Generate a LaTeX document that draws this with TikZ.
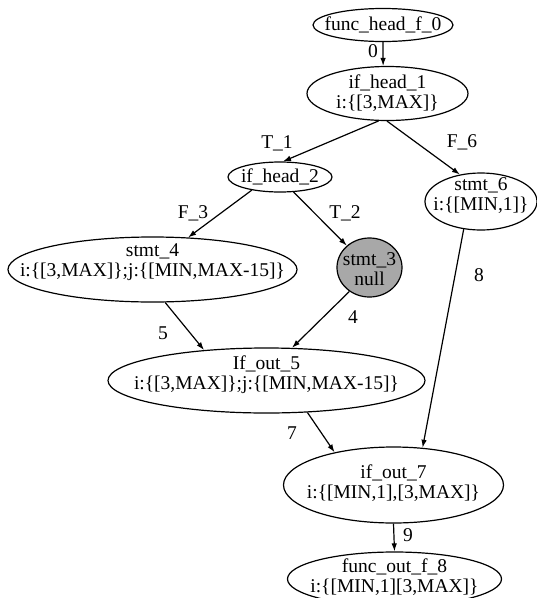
\documentclass[tikz,border=0pt]{standalone}
\usepackage{fontspec}
\setmainfont{Liberation Serif}
\usetikzlibrary{shapes.geometric,arrows.meta}
\definecolor{nodegray}{gray}{0.66}
\tikzset{
  bub/.style={ellipse, draw, line width=1.2pt, inner sep=0pt},
  txt/.style={align=center, inner sep=0pt, font=\fontsize{19.5}{20}\selectfont},
  lab/.style={inner sep=0pt, font=\fontsize{19.5}{20}\selectfont},
  conn/.style={line width=1.2pt, -{Latex[length=8pt,width=5.5pt]}},
}
\begin{document}
\begin{tikzpicture}[x=1pt,y=-1pt]
\useasboundingbox (0,0) rectangle (537,598);
% ellipses
\node[bub, minimum width=140pt, minimum height=33pt] (A) at (383,25) {};
\node[bub, minimum width=161pt, minimum height=54pt] (B) at (387.5,93.5) {};
\node[bub, minimum width=104pt, minimum height=30pt] (C) at (280,177) {};
\node[bub, minimum width=112pt, minimum height=57pt] (D) at (481,201.5) {};
\node[bub, minimum width=289pt, minimum height=65pt] (E) at (152.5,269.5) {};
\node[bub, fill=nodegray, minimum width=65pt, minimum height=59pt] (F) at (369.5,267.5) {};
\node[bub, minimum width=317pt, minimum height=65pt] (G) at (266.5,380.5) {};
\node[bub, minimum width=220pt, minimum height=76pt] (H) at (393.5,485) {};
\node[bub, minimum width=214pt, minimum height=54pt] (I) at (394.5,579) {};
% texts
\node[txt] (At) at (A) {func\_head\_f\_0};
\node[txt] (Bt) at (B.center) {if\_head\_1\\i:\{[3,MAX]\}};
\node[txt] (Ct) at (C) {if\_head\_2};
\node[txt] (Dt) at ([yshift=6pt]D.center) {stmt\_6\\i:\{[MIN,1]\}};
\node[txt] (Et) at ([yshift=7pt]E.center) {stmt\_4\\i:\{[3,MAX]\};j:\{[MIN,MAX-15]\}};
\node[txt] (Ft) at ([yshift=-2pt]F.center) {stmt\_3\\null};
\node[txt] (Gt) at ([yshift=6pt]G.center) {If\_out\_5\\i:\{[3,MAX]\};j:\{[MIN,MAX-15]\}};
\node[txt] (Ht) at ([yshift=2pt]H.center) {if\_out\_7\\i:\{[MIN,1],[3,MAX]\}};
\node[txt] (It) at ([yshift=1.5pt]I.center) {func\_out\_f\_8\\i:\{[MIN,1][3,MAX]\}};
% connectors
\draw[conn] (A.south) -- (B.99);
\draw[conn] (B.-108) -- (C.79);
\draw[conn] (B.-91) -- (D.128);
\draw[conn] (C.-155) -- (E.42);
\draw[conn] (C.-48) -- (F.136);
\draw[conn] (E.-69) -- (G.154);
\draw[conn] (F.-130) -- (G.52);
\draw[conn] (D.-122) -- (H.52);
\draw[conn] (G.-38) -- (H.151);
\draw[conn] (H.south) -- (I.north);
% labels
\node[lab] (l0) at (373,51) {0};
\node[lab] (l1) at (277,143) {T\_1};
\node[lab] (l6) at (462,142) {F\_6};
\node[lab] (l3) at (193,213) {F\_3};
\node[lab] (l2) at (345,213) {T\_2};
\node[lab] (l5) at (163,333) {5};
\node[lab] (l4) at (353,317) {4};
\node[lab] (l8) at (479,275) {8};
\node[lab] (l7) at (292,433) {7};
\node[lab] (l9) at (408,535) {9};
\end{tikzpicture}
\end{document}
